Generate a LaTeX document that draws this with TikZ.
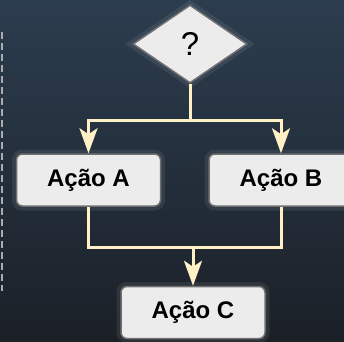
\documentclass[tikz,border=0pt]{standalone}
\usepackage{fontspec}
\setmainfont{Liberation Sans}
\usetikzlibrary{arrows.meta, shapes.geometric}
\definecolor{bgtop}{RGB}{44,61,79}
\definecolor{bgbot}{RGB}{27,32,39}
\definecolor{boxfill}{RGB}{236,236,236}
\definecolor{boxline}{RGB}{112,112,112}
\definecolor{flowcol}{RGB}{255,240,198}
\definecolor{dashcol}{RGB}{170,172,176}

\begin{document}
\begin{tikzpicture}[x=1pt, y=-1pt, >={Stealth[length=25pt, width=18pt, inset=6pt]},
    glow/.style={preaction={draw=white, draw opacity=0.08, line width=9pt}},
    action/.style={glow, draw=boxline, line width=1.5pt, fill=boxfill, rounded corners=6pt,
        minimum width=144pt, minimum height=52pt, inner sep=0pt,
        font=\fontsize{24}{28}\selectfont\bfseries, text=black},
    decision/.style={glow, diamond, draw=boxline, line width=1.5pt, fill=boxfill,
        minimum width=114pt, minimum height=78pt, inner sep=0pt,
        font=\fontsize{33}{36}\selectfont, text=black},
    flow/.style={draw=flowcol, line width=3pt}]
    \useasboundingbox (0,0) rectangle (344,341);
    \clip (0,0) rectangle (344,341);
    \shade[top color=bgtop, bottom color=bgbot] (0,0) rectangle (344,341);
    \draw[dashcol, line width=2pt, dash pattern=on 7pt off 4pt] (2,32) -- (2,291);
    % decision and actions
    \node[decision] (q) at (190,44) {?};
    \node[action] (a) at (88.5,180) {Ação A};
    \node[action] (b) at (281,180) {Ação B};
    \node[action] (c) at (193,312.5) {Ação C};
    \coordinate (fork) at (190,120);
    \coordinate (join) at (193,247);
    % split
    \draw[flow] (q.south) -- (fork);
    \draw[flow, ->] (fork) -| (a.north);
    \draw[flow, ->] (fork) -| (b.north);
    % merge
    \draw[flow] (a.south) |- (join);
    \draw[flow] (b.south) |- (join);
    \draw[flow, ->] (join) -- (c.north);
\end{tikzpicture}
\end{document}
